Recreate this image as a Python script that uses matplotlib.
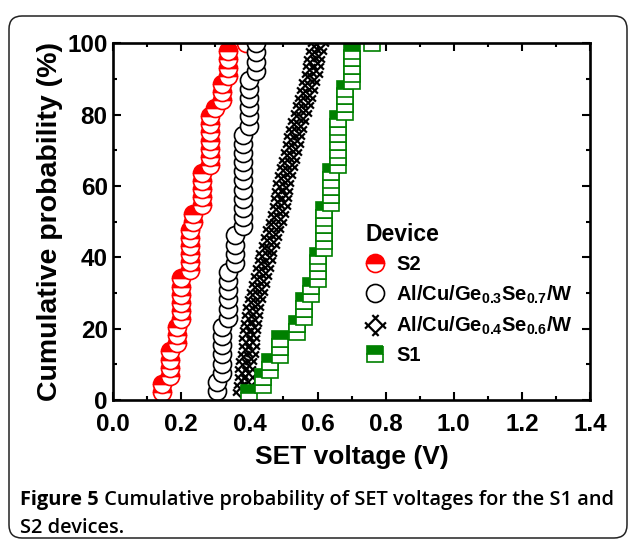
import matplotlib
matplotlib.use("Agg")
import matplotlib.pyplot as plt
import numpy as np
from matplotlib.path import Path
from matplotlib.patches import FancyBboxPatch
from matplotlib.ticker import MultipleLocator, FormatStrFormatter

plt.rcParams['font.family'] = 'Liberation Sans'
plt.rcParams['font.weight'] = 'bold'
plt.rcParams['mathtext.fontset'] = 'custom'
plt.rcParams['mathtext.rm'] = 'Liberation Sans:bold'
plt.rcParams['mathtext.it'] = 'Liberation Sans:bold'
plt.rcParams['mathtext.bf'] = 'Liberation Sans:bold'

# SET voltage levels (V) and how many devices switched at each level
s2_levels = [0.143, 0.167, 0.188, 0.200, 0.226, 0.235, 0.260, 0.285, 0.300, 0.320, 0.338, 0.390]
s2_counts = [2, 4, 3, 6, 6, 2, 5, 7, 1, 3, 4, 1]

ge37_levels = [0.305, 0.319, 0.338, 0.358, 0.382, 0.400, 0.420]
ge37_counts = [2, 6, 6, 4, 11, 6, 4]

ge46_v = [0.380, 0.383, 0.386, 0.388, 0.391, 0.395, 0.398, 0.400, 0.403, 0.405,
          0.408, 0.410, 0.416, 0.422, 0.428, 0.434, 0.440, 0.445, 0.450, 0.456,
          0.462, 0.470, 0.477, 0.484, 0.490, 0.494, 0.497, 0.500, 0.504, 0.510,
          0.515, 0.521, 0.527, 0.532, 0.538, 0.544, 0.550, 0.556, 0.563, 0.570,
          0.576, 0.583, 0.587, 0.591, 0.596, 0.600]

s1_levels = [0.40, 0.44, 0.46, 0.49, 0.54, 0.56, 0.58, 0.60, 0.62, 0.64, 0.66, 0.68, 0.70, 0.76]
s1_counts = [1, 2, 2, 3, 2, 3, 2, 4, 6, 5, 7, 4, 5, 1]

labels = ['S2', r'Al/Cu/Ge$_{0.3}$Se$_{0.7}$/W', r'Al/Cu/Ge$_{0.4}$Se$_{0.6}$/W', 'S1']


def cdf(v):
    v = np.sort(np.asarray(v, dtype=float))
    return v, np.arange(1, len(v) + 1) / len(v) * 100


s2_v, s2_p = cdf(np.repeat(s2_levels, s2_counts))
ge37_v, ge37_p = cdf(np.repeat(ge37_levels, ge37_counts))
ge46_v, ge46_p = cdf(ge46_v)
s1_v, s1_p = cdf(np.repeat(s1_levels, s1_counts))

# crossed diamond marker (rotated hash)
c = 0.35
hash_verts = [(-1, -1 + 2 * c), (1 - 2 * c, 1), (-1 + 2 * c, -1), (1, 1 - 2 * c),
              (-1 + 2 * c, 1), (1, -1 + 2 * c), (-1, 1 - 2 * c), (1 - 2 * c, -1)]
hash_codes = [Path.MOVETO, Path.LINETO] * 4
hash_marker = Path(hash_verts, hash_codes)

fig = plt.figure(figsize=(6.29, 5.40), dpi=100)
ax = fig.add_axes([0.18, 0.259, 0.758, 0.661])

ax.plot(s2_v, s2_p, ls='none', marker='o', ms=13, fillstyle='top',
        mfc='red', mfcalt='white', mec='red', mew=1.2, label=labels[0])
ax.plot(ge37_v, ge37_p, ls='none', marker='o', ms=13,
        mfc='white', mec='black', mew=1.2, label=labels[1])
ax.plot(ge46_v, ge46_p, ls='none', marker=hash_marker, ms=15,
        mfc='none', mec='black', mew=1.6, label=labels[2])
ax.plot(s1_v, s1_p, ls='none', marker='s', ms=11, fillstyle='top',
        mfc='green', mfcalt='white', mec='green', mew=1.2, label=labels[3])

ax.set_xlim(0, 1.4)
ax.set_ylim(0, 100)
ax.xaxis.set_major_locator(MultipleLocator(0.2))
ax.xaxis.set_minor_locator(MultipleLocator(0.1))
ax.yaxis.set_major_locator(MultipleLocator(20))
ax.yaxis.set_minor_locator(MultipleLocator(10))
ax.xaxis.set_major_formatter(FormatStrFormatter('%.1f'))
ax.tick_params(which='both', direction='in', top=True, right=True,
               width=1.5, labelsize=17.5)
ax.tick_params(which='major', length=5.5)
ax.tick_params(which='minor', length=3)
ax.tick_params(axis='x', pad=9.5)
ax.tick_params(axis='y', pad=4)
for s in ax.spines.values():
    s.set_linewidth(1.9)

ax.set_xlabel('SET voltage (V)', fontsize=19, fontweight='bold', labelpad=6)
ax.set_ylabel('Cumulative probability (%)', fontsize=20.5, fontweight='bold', labelpad=3)

leg = ax.legend(loc='upper left', bbox_to_anchor=(0.53, 0.497), frameon=False,
                fontsize=14.5, title='Device', title_fontproperties={'size': 16.5, 'weight': 'bold'},
                alignment='left', handlelength=0.9, handletextpad=0.6,
                labelspacing=0.46, borderpad=0, borderaxespad=0)

# rounded figure border
fig.patches.append(FancyBboxPatch((0.09, 0.02), 6.18, 5.22,
                                  boxstyle='round,pad=0,rounding_size=0.13',
                                  transform=fig.dpi_scale_trans, fill=False,
                                  ec='#222222', lw=1.1))

# caption
cap_kw = dict(fontsize=14.4, family='Open Sans', va='baseline', ha='left')
fig.canvas.draw()
r = fig.canvas.get_renderer()
t1 = fig.text(20 / 629, 1 - 505 / 540, 'Figure 5', fontweight='bold', **cap_kw)
bb = t1.get_window_extent(r)
fig.text(bb.x1 / fig.bbox.width, 1 - 505 / 540,
         ' Cumulative probability of SET voltages for the S1 and', fontweight='semibold', **cap_kw)
fig.text(20 / 629, 1 - 533 / 540, 'S2 devices.', fontweight='semibold', **cap_kw)

fig.savefig('out.png', dpi=100)
